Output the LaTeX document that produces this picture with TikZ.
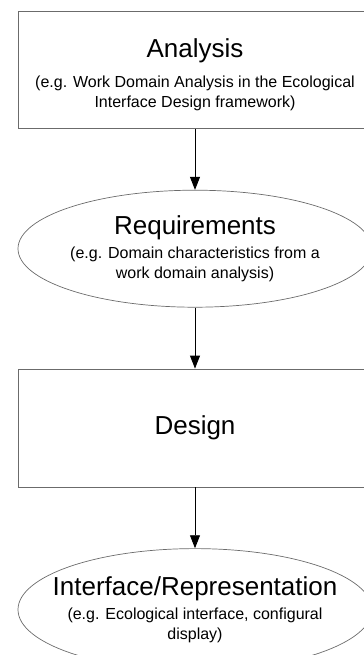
\documentclass[tikz,border=0pt]{standalone}
\usepackage{fontspec}
\setmainfont{Liberation Sans}
\usepackage{xcolor}
\definecolor{framebd}{gray}{0.42}
\usetikzlibrary{positioning, arrows.meta, shapes.geometric}

\newcommand{\headfont}{\fontsize{26bp}{28bp}\selectfont}

\begin{document}
\begin{tikzpicture}[
  x=1bp, y=-1bp,
  node distance=61bp,
  stage/.style={draw=framebd, line width=0.7bp, minimum width=354bp,
                minimum height=117bp, inner sep=0pt, align=center,
                font=\fontsize{16bp}{20bp}\selectfont},
  outcome/.style={ellipse, draw=framebd, line width=0.7bp, minimum width=354bp,
                  minimum height=117bp, inner sep=0pt},
  caption/.style={font=\fontsize{16bp}{20bp}\selectfont, align=center},
  flow/.style={-{Triangle[length=13bp, width=10bp]}, line width=0.9bp},
]
\useasboundingbox (0,0) rectangle (363,655);

% Stages, top to bottom
\node[stage, text height=79bp] (ana) at (195,70) {{\headfont Analysis}\\[10bp](e.g. Work Domain Analysis in the Ecological\\Interface Design framework)};
\node[outcome, below=of ana] (req) {};
\node[caption] (reqtxt) at (req) {{\headfont Requirements}\\[4bp](e.g. Domain characteristics from a\\work domain analysis)};
\node[stage, minimum height=118bp, below=of req] (des) {\headfont Design};
\node[outcome, minimum height=122bp, below=of des] (rep) {};
\node[caption] (reptxt) at (rep) {{\headfont Interface/Representation}\\[4bp](e.g. Ecological interface, configural\\display)};

% Arrows between stages
\draw[flow] (ana) -- (req);
\draw[flow] (req) -- (des);
\draw[flow] (des) -- (rep);
\end{tikzpicture}
\end{document}
